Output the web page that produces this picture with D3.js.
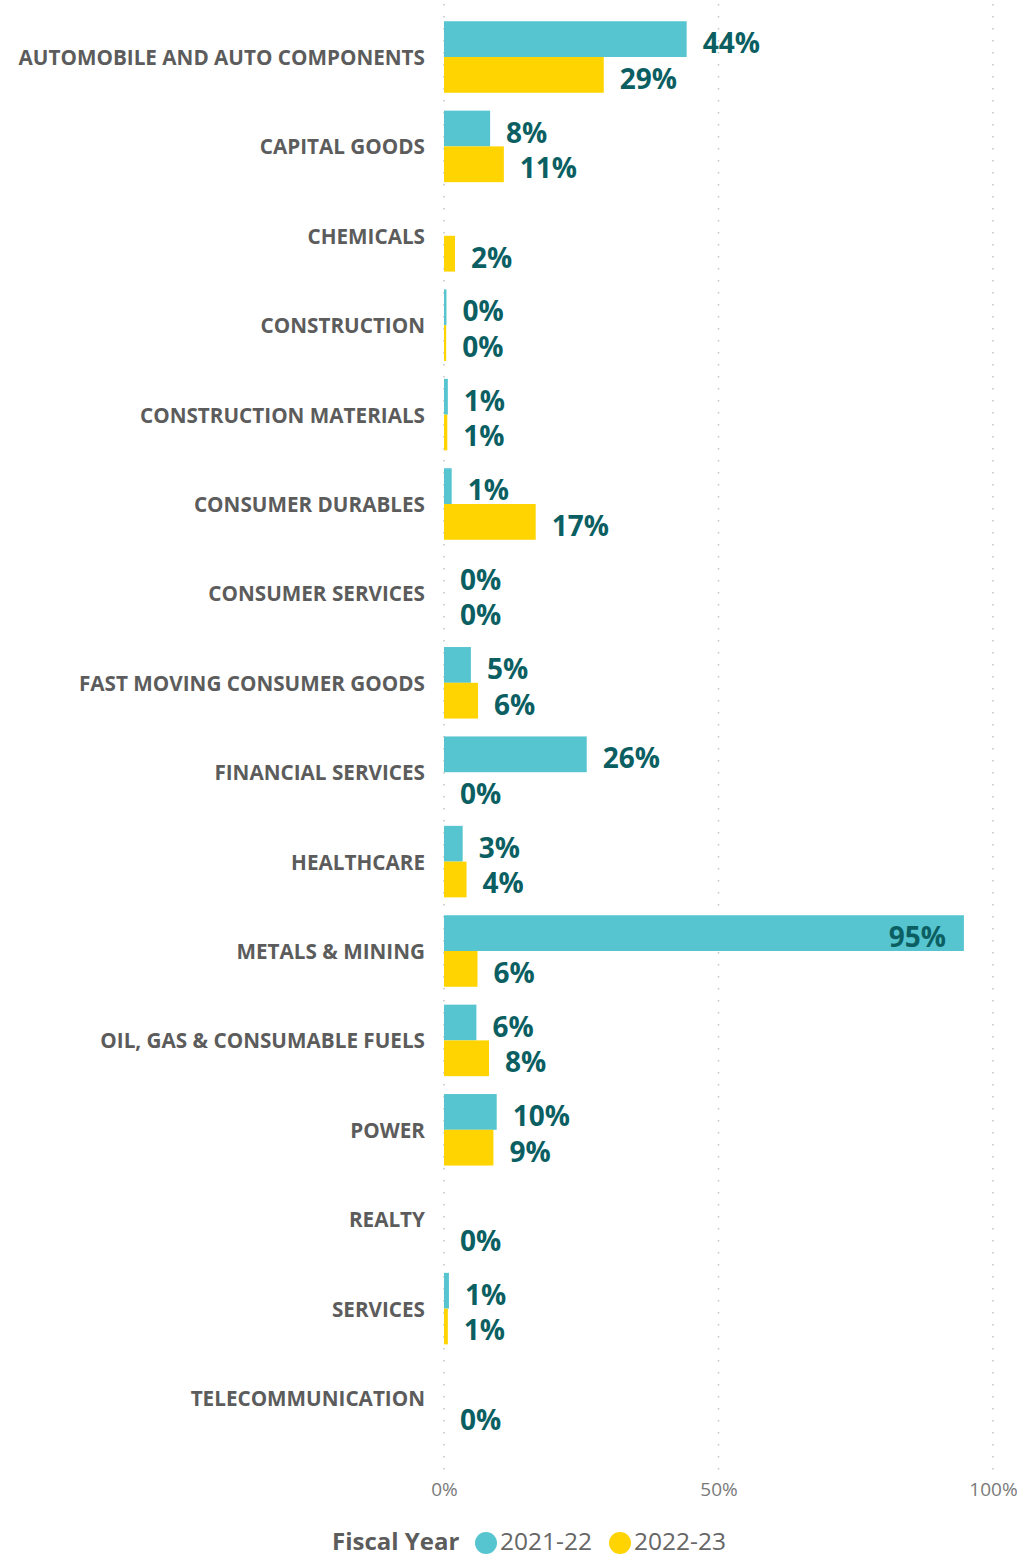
<!DOCTYPE html>
<html>
<head>
<meta charset="utf-8">
<script src="https://cdn.jsdelivr.net/npm/d3@7"></script>
<style>
  html, body { margin: 0; padding: 0; background: #fff; }
  svg { display: block; }
</style>
</head>
<body>
<svg id="chart" width="1017" height="1557"></svg>
<script>
// Sector categories (top to bottom)
const categories = [
  "AUTOMOBILE AND AUTO COMPONENTS",
  "CAPITAL GOODS",
  "CHEMICALS",
  "CONSTRUCTION",
  "CONSTRUCTION MATERIALS",
  "CONSUMER DURABLES",
  "CONSUMER SERVICES",
  "FAST MOVING CONSUMER GOODS",
  "FINANCIAL SERVICES",
  "HEALTHCARE",
  "METALS & MINING",
  "OIL, GAS & CONSUMABLE FUELS",
  "POWER",
  "REALTY",
  "SERVICES",
  "TELECOMMUNICATION"
];

// Fiscal years shown in the legend
const seriesNames = ["2021-22", "2022-23"];

// Share (%) per sector; null = no value for that year
const values2021 = [44.2, 8.4, null, 0.45, 0.7, 1.4, 0, 4.9, 26.0, 3.4, 94.7, 5.9, 9.6, null, 0.9, null];
const values2022 = [29.1, 10.9, 2.0, 0.4, 0.6, 16.7, 0, 6.2, 0, 4.1, 6.1, 8.2, 9.0, 0, 0.7, 0];

// Axis ticks
const tickValues = [0, 50, 100];
const tickLabels = ["0%", "50%", "100%"];

const colors = { "2021-22": "#57C5D0", "2022-23": "#FFD400" };
const labelColor = "#0B5F62";

const svg = d3.select("#chart");

const x = d3.scaleLinear().domain([0, 100]).range([444, 993]);
const y = d3.scaleBand().domain(categories).range([12.3, 1442.7]).paddingInner(0.2).paddingOuter(0.1);
const ySub = d3.scaleBand().domain(seriesNames).range([0, y.bandwidth()]);

// Dotted vertical gridlines
svg.append("g").selectAll("line")
  .data(tickValues)
  .join("line")
  .attr("x1", d => x(d)).attr("x2", d => x(d))
  .attr("y1", 4).attr("y2", 1470)
  .attr("stroke", "#c4c4c4")
  .attr("stroke-width", 1.5)
  .attr("stroke-dasharray", "1.5,10.5");

// Bottom axis labels
const xAxis = d3.axisBottom(x).tickValues(tickValues)
  .tickFormat((d, i) => tickLabels[i]).tickSize(0).tickPadding(0);
const axisG = svg.append("g").attr("transform", "translate(0,1482)").call(xAxis);
axisG.select(".domain").remove();
axisG.selectAll("text")
  .attr("font-family", "'Open Sans', sans-serif")
  .attr("font-weight", 400)
  .attr("font-size", 19)
  .attr("fill", "#7a7a7a")
  .attr("dy", "0.75em");

// Category labels
svg.append("g").selectAll("text")
  .data(categories)
  .join("text")
  .attr("x", 425)
  .attr("y", d => y(d) + y.bandwidth() / 2)
  .attr("text-anchor", "end")
  .attr("dominant-baseline", "central")
  .attr("font-family", "'Open Sans', sans-serif")
  .attr("font-weight", 700)
  .attr("font-size", 20.7)
  .attr("fill", "#5c5c5c")
  .text(d => d);

// Flatten series into bar records
const records = [];
categories.forEach((c, i) => {
  records.push({ cat: c, series: "2021-22", value: values2021[i] });
  records.push({ cat: c, series: "2022-23", value: values2022[i] });
});
const present = records.filter(r => r.value !== null);

// Bars
svg.append("g").selectAll("rect")
  .data(present)
  .join("rect")
  .attr("x", x(0))
  .attr("y", d => y(d.cat) + ySub(d.series))
  .attr("width", d => x(d.value) - x(0))
  .attr("height", ySub.bandwidth())
  .attr("fill", d => colors[d.series]);

// Value labels (inside the bar end when the bar is near full width)
svg.append("g").selectAll("text")
  .data(present)
  .join("text")
  .attr("x", d => d.value > 85 ? x(d.value) - 18 : x(d.value) + 16)
  .attr("y", d => y(d.cat) + ySub(d.series) + ySub.bandwidth() / 2 + 3)
  .attr("text-anchor", d => d.value > 85 ? "end" : "start")
  .attr("dominant-baseline", "central")
  .attr("font-family", "'Open Sans', sans-serif")
  .attr("font-weight", 700)
  .attr("font-size", 28)
  .attr("fill", labelColor)
  .text(d => Math.round(d.value) + "%");

// Legend
const legend = svg.append("g").attr("transform", "translate(0,1540)");
legend.append("text")
  .attr("x", 332).attr("y", 0)
  .attr("dominant-baseline", "central")
  .attr("font-family", "'Open Sans', sans-serif")
  .attr("font-weight", 700)
  .attr("font-size", 24)
  .attr("fill", "#5c5c5c")
  .text("Fiscal Year");

const legendX = [486, 620];
const items = legend.selectAll("g.item")
  .data(seriesNames)
  .join("g")
  .attr("class", "item")
  .attr("transform", (d, i) => `translate(${legendX[i]},0)`);
items.append("circle").attr("r", 11).attr("cy", 3).attr("fill", d => colors[d]);
items.append("text")
  .attr("x", 14).attr("y", 0)
  .attr("dominant-baseline", "central")
  .attr("font-family", "'Open Sans', sans-serif")
  .attr("font-weight", 400)
  .attr("font-size", 24.5)
  .attr("fill", "#666")
  .text(d => d);
</script>
</body>
</html>
